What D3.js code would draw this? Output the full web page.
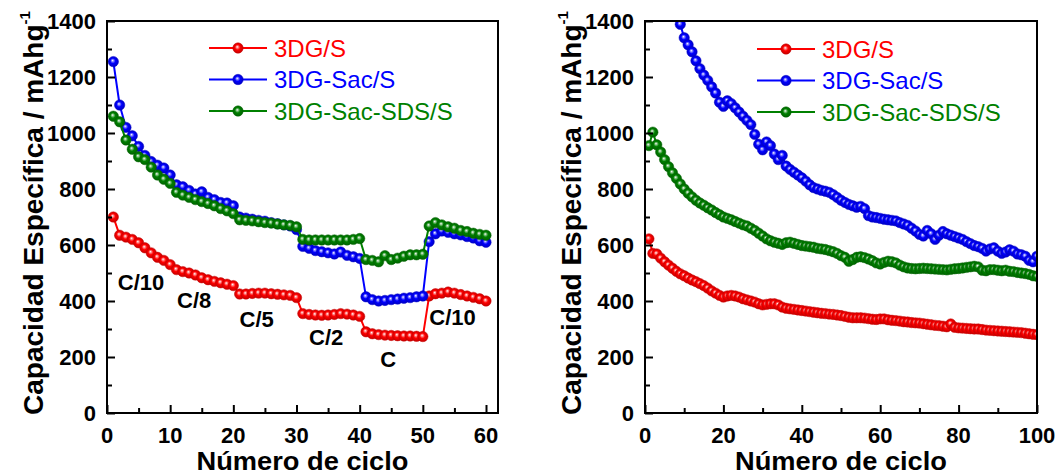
<!DOCTYPE html>
<html><head><meta charset="utf-8">
<script src="https://cdn.jsdelivr.net/npm/d3@7"></script>
<style>
html,body{margin:0;padding:0;background:#fff;}
svg{display:block;font-family:"Liberation Sans",Arial,sans-serif;}
</style></head>
<body>
<svg id="chart" width="1058" height="476"></svg>
<script>
// ---------- DATA ----------
const seriesNames = ["3DG/S", "3DG-Sac/S", "3DG-Sac-SDS/S"];
const seriesColors = ["#ff0000", "#0000ff", "#008000"];
const yTicks = [0, 200, 400, 600, 800, 1000, 1200, 1400];
const xTicksLeft = [0, 10, 20, 30, 40, 50, 60];
const xTicksRight = [0, 20, 40, 60, 80, 100];
const rateLabels = ["C/10", "C/8", "C/5", "C/2", "C", "C/10"];
const rateLabelCycle = [5.4, 13.8, 23.7, 34.7, 44.5, 54.7];
const rateLabelValue = [439, 375, 307, 243, 164, 314];

// Left panel (rate test), cycles 1..60
const cyclesLeft = d3.range(1, 61);
const redLeft = [700, 635, 628, 620, 608, 590, 572, 556, 545, 530,
  512, 505, 500, 493, 483, 476, 470, 465, 460, 455,
  425, 425, 427, 428, 428, 426, 424, 422, 420, 412,
  355, 352, 350, 349, 350, 352, 355, 353, 350, 345,
  290, 283, 280, 278, 277, 276, 275, 275, 274, 273,
  418, 426, 428, 432, 428, 423, 418, 413, 408, 400];
const blueLeft = [1255, 1100, 1020, 990, 952, 920, 898, 885, 875, 850,
  815, 808, 795, 782, 790, 770, 762, 752, 750, 740,
  700, 696, 692, 688, 685, 680, 676, 672, 668, 655,
  595, 588, 580, 576, 572, 568, 575, 563, 558, 552,
  415, 405, 400, 402, 405, 407, 410, 412, 415, 418,
  612, 640, 650, 645, 640, 636, 630, 625, 615, 610];
const greenLeft = [1060, 1040, 975, 942, 915, 905, 878, 850, 835, 820,
  788, 778, 770, 762, 755, 748, 740, 730, 722, 712,
  690, 688, 686, 683, 680, 678, 675, 672, 670, 665,
  620, 618, 618, 618, 618, 618, 618, 618, 620, 623,
  548, 545, 540, 562, 548, 553, 560, 565, 565, 567,
  668, 680, 672, 665, 660, 652, 648, 642, 638, 635];

// Right panel (cycling), cycles 1..100 (blue visible from cycle 9)
const cyclesRight = d3.range(1, 101);
const cyclesRightBlue = d3.range(9, 101);
const redRight = [622, 570, 568, 553, 540, 528, 517, 506, 497, 490,
  482, 475, 469, 462, 455, 446, 436, 428, 420, 414,
  418, 420, 418, 414, 408, 404, 400, 396, 390, 386,
  388, 390, 390, 386, 378, 374, 372, 370, 368, 366,
  364, 362, 360, 358, 356, 355, 353, 352, 350, 348,
  345, 342, 340, 340, 340, 339, 337, 335, 334, 336,
  336, 333, 331, 330, 328, 326, 325, 323, 322, 321,
  319, 317, 315, 313, 312, 310, 308, 318, 306, 304,
  303, 302, 301, 300, 300, 298, 296, 295, 294, 293,
  292, 291, 290, 289, 288, 287, 285, 283, 281, 280];
const blueRight = [1388, 1340, 1315, 1290, 1258, 1230, 1207, 1188, 1165, 1143, 1110, 1095,
  1115, 1105, 1090, 1075, 1060, 1045, 1030, 995, 960, 940,
  968, 955, 925, 905, 920, 882, 870, 860, 850, 840,
  828, 815, 805, 800, 795, 792, 788, 780, 770, 760,
  752, 745, 740, 735, 738, 730, 705, 700, 698, 695,
  692, 690, 688, 686, 680, 675, 670, 660, 650, 638,
  632, 652, 640, 620, 635, 648, 640, 635, 630, 625,
  620, 612, 605, 598, 594, 588, 578, 586, 590, 578,
  570, 575, 583, 578, 568, 565, 560, 545, 540, 560];
const greenRight = [955, 1003, 958, 932, 905, 880, 858, 838, 818, 800,
  785, 772, 760, 750, 742, 733, 725, 716, 708, 700,
  695, 690, 684, 678, 672, 668, 660, 652, 642, 632,
  622, 615, 610, 606, 602, 608, 610, 606, 602, 598,
  596, 594, 592, 588, 586, 584, 580, 576, 570, 562,
  556, 542, 548, 556, 558, 555, 550, 544, 536, 532,
  538, 542, 540, 536, 528, 522, 518, 516, 515, 516,
  517, 516, 515, 514, 513, 512, 511, 513, 515, 516,
  518, 520, 522, 524, 522, 510, 508, 512, 512, 510,
  508, 510, 506, 505, 502, 500, 498, 495, 490, 488];

// ---------- DRAW ----------
const svg = d3.select("#chart");
const defs = svg.append("defs");

function shade(c, k) { return d3.color(c).darker(k).formatHex(); }
function tint(c, t) { return d3.interpolateRgb(c, "#ffffff")(t); }

seriesColors.forEach((c, i) => {
  const g = defs.append("radialGradient").attr("id", "ball" + i)
    .attr("cx", "50%").attr("cy", "50%").attr("r", "55%")
    .attr("fx", "42%").attr("fy", "38%");
  g.append("stop").attr("offset", "0%").attr("stop-color", "#ffffff");
  g.append("stop").attr("offset", "18%").attr("stop-color", tint(c, 0.55));
  g.append("stop").attr("offset", "45%").attr("stop-color", c);
  g.append("stop").attr("offset", "100%").attr("stop-color", shade(c, 0.9));
});

const plotTop = 21, plotBottom = 413;
const y = d3.scaleLinear().domain([0, 1400]).range([plotBottom, plotTop]);

function drawPanel(opt) {
  const x = d3.scaleLinear().domain(opt.xDomain).range([opt.x0, opt.x1]);
  const g = svg.append("g");
  const clipId = "clip" + opt.id;
  defs.append("clipPath").attr("id", clipId).append("rect")
    .attr("x", opt.x0).attr("y", plotTop).attr("width", opt.x1 - opt.x0).attr("height", plotBottom - plotTop);

  const dataG = g.append("g").attr("clip-path", `url(#${clipId})`);
  const line = d3.line().x(d => x(d[0])).y(d => y(d[1]));
  opt.series.forEach((s) => {
    const pts = s.xs.map((c, j) => [c, s.ys[j]]);
    dataG.append("path").attr("d", line(pts)).attr("fill", "none")
      .attr("stroke", seriesColors[s.idx]).attr("stroke-width", 2);
    dataG.selectAll(null).data(pts).enter().append("circle")
      .attr("cx", d => x(d[0])).attr("cy", d => y(d[1])).attr("r", 5.2)
      .attr("fill", `url(#ball${s.idx})`)
      .attr("stroke", shade(seriesColors[s.idx], 0.6)).attr("stroke-width", 0.5);
  });

  // axes: ticks inside
  const yAxis = d3.axisLeft(y).tickValues(d3.range(0, 1401, 100)).tickSize(-7).tickFormat("");
  const ya = g.append("g").attr("transform", `translate(${opt.x0},0)`).call(yAxis);
  ya.selectAll(".tick line").attr("stroke", "#000").attr("stroke-width", 2)
    .attr("x2", d => (d % 200 === 0 ? 8 : 5));
  ya.select(".domain").remove();
  const xAxis = d3.axisBottom(x).tickValues(opt.xMinor).tickSize(-7).tickFormat("");
  const xa = g.append("g").attr("transform", `translate(0,${plotBottom})`).call(xAxis);
  xa.selectAll(".tick line").attr("stroke", "#000").attr("stroke-width", 2)
    .attr("y2", d => (opt.xTicks.includes(d) ? -8 : -5));
  xa.select(".domain").remove();

  g.append("rect").attr("x", opt.x0).attr("y", plotTop).attr("width", opt.x1 - opt.x0)
    .attr("height", plotBottom - plotTop).attr("fill", "none").attr("stroke", "#000").attr("stroke-width", 2);

  // tick labels
  g.selectAll(null).data(yTicks).enter().append("text")
    .attr("x", opt.x0 - 11).attr("y", d => y(d) + 7.5).attr("text-anchor", "end")
    .attr("font-size", 22).attr("font-weight", "bold").text(d => d);
  g.selectAll(null).data(opt.xTicks).enter().append("text")
    .attr("x", d => x(d)).attr("y", 443).attr("text-anchor", "middle")
    .attr("font-size", 22).attr("font-weight", "bold").text(d => d);

  // axis titles
  g.append("text").attr("x", (opt.x0 + opt.x1) / 2).attr("y", 470).attr("text-anchor", "middle")
    .attr("font-size", 26).attr("font-weight", "bold")
    .attr("textLength", 212).attr("lengthAdjust", "spacingAndGlyphs").text("Número de ciclo");
  const yt = g.append("text").attr("transform", `translate(${opt.x0 - 64},415) rotate(-90)`)
    .attr("font-size", 28).attr("font-weight", "bold");
  yt.append("tspan").text("Capacidad Específica / mAhg");
  yt.append("tspan").attr("font-size", 15).attr("dy", -13).text("-1");

  // legend
  seriesNames.forEach((n, i) => {
    const ly = opt.legY + i * 31.5;
    g.append("line").attr("x1", opt.legX).attr("x2", opt.legX + 58).attr("y1", ly).attr("y2", ly)
      .attr("stroke", seriesColors[i]).attr("stroke-width", 2);
    g.append("circle").attr("cx", opt.legX + 29).attr("cy", ly).attr("r", 5.2)
      .attr("fill", `url(#ball${i})`).attr("stroke", shade(seriesColors[i], 0.6)).attr("stroke-width", 0.5);
    g.append("text").attr("x", opt.legX + 65).attr("y", ly + 8.5).attr("font-size", 24)
      .attr("fill", seriesColors[i]).text(n);
  });
  return x;
}

const xL = drawPanel({
  id: "L", x0: 107, x1: 498, xDomain: [0, 61.9],
  xTicks: xTicksLeft, xMinor: d3.range(0, 61, 5),
  legX: 209, legY: 48,
  series: [
    { idx: 0, xs: cyclesLeft, ys: redLeft },
    { idx: 1, xs: cyclesLeft, ys: blueLeft },
    { idx: 2, xs: cyclesLeft, ys: greenLeft }
  ]
});
drawPanel({
  id: "R", x0: 645, x1: 1037, xDomain: [0, 100],
  xTicks: xTicksRight, xMinor: d3.range(0, 101, 10),
  legX: 757, legY: 49,
  series: [
    { idx: 0, xs: cyclesRight, ys: redRight },
    { idx: 1, xs: cyclesRightBlue, ys: blueRight },
    { idx: 2, xs: cyclesRight, ys: greenRight }
  ]
});

// rate labels in left panel
svg.selectAll(null).data(rateLabels).enter().append("text")
  .attr("x", (d, i) => xL(rateLabelCycle[i])).attr("y", (d, i) => y(rateLabelValue[i]))
  .attr("text-anchor", "middle").attr("font-size", 22).attr("font-weight", "bold").text(d => d);
</script>
</body></html>
